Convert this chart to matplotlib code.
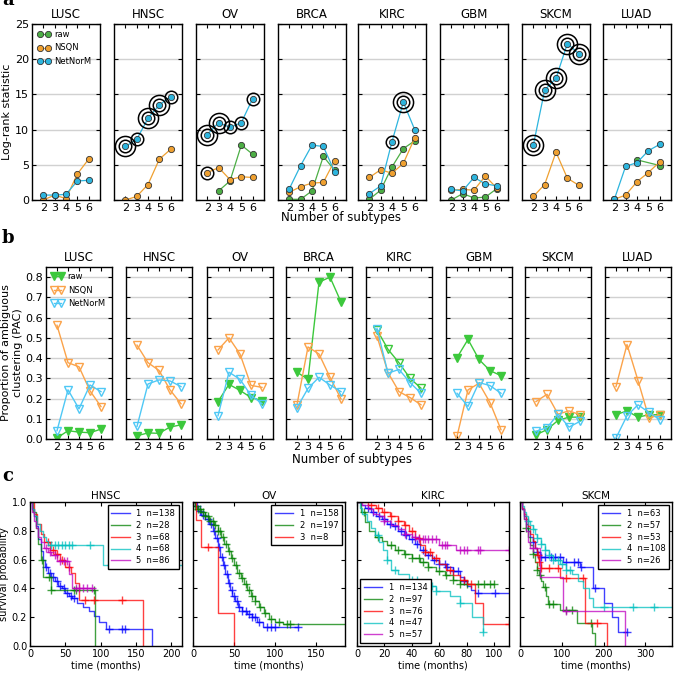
import numpy as np
import matplotlib
matplotlib.use("Agg")
import matplotlib.pyplot as plt

plt.rcParams["font.family"] = "DejaVu Sans"
plt.rcParams["xtick.direction"] = "in"
plt.rcParams["ytick.direction"] = "in"
plt.rcParams["xtick.top"] = True
plt.rcParams["ytick.right"] = True
plt.rcParams["xtick.major.size"] = 3
plt.rcParams["ytick.major.size"] = 3
plt.rcParams["axes.linewidth"] = 1.0

# ---------------- data panel a : log-rank statistic ----------------
cancers_a = ["LUSC", "HNSC", "OV", "BRCA", "KIRC", "GBM", "SKCM", "LUAD"]
n_sub = [2, 3, 4, 5, 6]
nan = np.nan
lr_raw = [
    [nan, nan, nan, nan, nan],
    [nan, nan, nan, nan, nan],
    [nan, 1.3, 2.7, 7.8, 6.5],
    [0.1, 0.1, 1.3, 6.2, 4.2],
    [0.1, 1.4, 4.7, 7.3, 8.4],
    [0.0, 0.9, 0.3, 0.4, 1.6],
    [nan, nan, nan, nan, nan],
    [nan, nan, 5.7, nan, 4.9],
]
lr_nsqn = [
    [0.0, 0.7, 0.2, 3.7, 5.8],
    [0.0, 0.5, 2.2, 5.8, 7.2],
    [3.9, 4.6, 2.9, 3.3, 3.2],
    [1.1, 1.9, 2.4, 2.5, 5.6],
    [3.2, 4.3, 3.8, 5.2, 8.8],
    [1.4, 1.5, 1.4, 3.4, 1.7],
    [0.5, 2.2, 6.8, 3.1, 2.1],
    [0.1, 0.7, 2.6, 3.9, 5.4],
]
lr_netnorm = [
    [0.7, 0.7, 0.8, 2.7, 2.8],
    [7.6, 8.6, 11.6, 13.5, 14.7],
    [9.3, 11.0, 10.3, 11.0, 14.4],
    [1.6, 4.9, 7.8, 7.6, 4.0],
    [0.9, 2.0, 8.3, 13.9, 10.0],
    [1.5, 1.3, 3.2, 2.3, 2.0],
    [7.8, 15.6, 17.3, 22.2, 20.8],
    [0.1, 4.8, 5.3, 7.0, 7.9],
]
# number of significance rings around each point
rings_netnorm = [
    [0, 0, 0, 0, 0],
    [2, 1, 2, 2, 1],
    [2, 2, 1, 1, 1],
    [0, 0, 0, 0, 0],
    [0, 0, 1, 2, 0],
    [0, 0, 0, 0, 0],
    [2, 2, 2, 2, 2],
    [0, 0, 0, 0, 0],
]
rings_nsqn = [
    [0, 0, 0, 0, 0],
    [0, 0, 0, 0, 0],
    [1, 0, 0, 0, 0],
    [0, 0, 0, 0, 0],
    [0, 0, 0, 0, 0],
    [0, 0, 0, 0, 0],
    [0, 0, 0, 0, 0],
    [0, 0, 0, 0, 0],
]

# ---------------- data panel b : PAC ----------------
pac_raw = [
    [0.005, 0.041, 0.034, 0.031, 0.049],
    [0.016, 0.030, 0.028, 0.059, 0.070],
    [0.185, 0.270, 0.240, 0.205, 0.190],
    [0.330, 0.295, 0.775, 0.800, 0.677],
    [0.540, 0.443, 0.377, 0.300, 0.251],
    [0.402, 0.492, 0.393, 0.338, 0.313],
    [0.021, 0.046, 0.092, 0.108, 0.108],
    [0.120, 0.139, 0.108, 0.120, 0.120],
]
pac_nsqn = [
    [0.562, 0.377, 0.357, 0.238, 0.160],
    [0.464, 0.377, 0.339, 0.243, 0.174],
    [0.440, 0.500, 0.420, 0.265, 0.255],
    [0.170, 0.455, 0.420, 0.305, 0.198],
    [0.508, 0.328, 0.234, 0.205, 0.169],
    [0.013, 0.243, 0.275, 0.180, 0.046],
    [0.185, 0.221, 0.123, 0.139, 0.120],
    [0.259, 0.467, 0.289, 0.103, 0.120],
]
pac_netnorm = [
    [0.041, 0.243, 0.149, 0.267, 0.234],
    [0.062, 0.272, 0.292, 0.287, 0.259],
    [0.115, 0.330, 0.295, 0.215, 0.175],
    [0.155, 0.250, 0.305, 0.267, 0.234],
    [0.546, 0.325, 0.344, 0.279, 0.226],
    [0.226, 0.161, 0.279, 0.264, 0.226],
    [0.038, 0.056, 0.123, 0.059, 0.087],
    [0.005, 0.115, 0.169, 0.131, 0.095],
]
raw_filled = [True, True, True, True, False, True, True, True]

# ---------------- data panel c : Kaplan-Meier ----------------
km_titles = ["HNSC", "OV", "KIRC", "SKCM"]
km_xmax = [215, 185, 111, 364]
km_xticks = [[0, 50, 100, 150, 200], [0, 50, 100, 150], [0, 20, 40, 60, 80, 100], [0, 100, 200, 300]]
km_sizes = [[138, 28, 68, 68, 86], [158, 197, 8], [134, 97, 76, 47, 57], [63, 57, 53, 108, 26]]
km_legend_loc = ["upper right", "upper right", "lower left", "upper right"]

hnsc_t = [
    [0, 3, 6, 9, 12, 15, 18, 21, 25, 30, 35, 40, 45, 50, 55, 60, 67, 75, 83, 90, 97, 108, 172],
    [0, 4, 8, 12, 15, 18, 30, 92],
    [0, 5, 10, 15, 20, 28, 35, 42, 50, 58, 63, 70, 160],
    [0, 3, 6, 10, 14, 18, 22, 26, 103, 215],
    [0, 3, 6, 9, 12, 16, 20, 25, 30, 38, 55, 60, 90],
]
hnsc_s = [
    [1, .95, .9, .83, .74, .66, .6, .55, .51, .48, .45, .42, .4, .37, .35, .33, .3, .27, .24, .21, .17, .12, 0],
    [1, .93, .82, .71, .6, .48, .39, 0],
    [1, .92, .85, .78, .72, .67, .64, .6, .55, .51, .44, .32, 0],
    [1, .95, .9, .85, .8, .76, .73, .7, .56, .56],
    [1, .93, .87, .82, .76, .72, .68, .65, .63, .59, .5, .4, .4],
]
hnsc_c = [
    [22, 28, 33, 38, 43, 48, 52, 58, 62, 112, 130, 135],
    [17, 27, 30, 62, 65, 90],
    [25, 32, 38, 45, 55, 78, 90, 130],
    [30, 35, 40, 45, 50, 55, 60, 85, 115, 125, 140],
    [22, 28, 35, 42, 48, 52, 65, 70, 75, 80, 88],
]

ov_t = [
    [0, 3, 6, 10, 15, 20, 24, 27, 30, 33, 36, 39, 42, 45, 48, 51, 55, 60, 66, 72, 78, 85, 128],
    [0, 2, 5, 10, 15, 20, 25, 30, 34, 38, 42, 46, 50, 54, 58, 62, 66, 70, 75, 80, 86, 92, 100, 110, 185],
    [0, 4, 10, 30, 50],
]
ov_s = [
    [1, .97, .94, .91, .88, .85, .8, .75, .69, .62, .56, .5, .44, .39, .35, .31, .27, .24, .22, .2, .17, .13, .13],
    [1, .97, .95, .93, .9, .87, .84, .8, .76, .71, .66, .61, .56, .51, .47, .43, .39, .35, .31, .27, .23, .19, .17, .15, .15],
    [1, .875, .69, .23, 0],
]
ov_c = [
    [5, 8, 12, 18, 22, 26, 29, 32, 35, 38, 41, 44, 47, 50, 53, 56, 60, 64, 68, 72, 76, 80, 90, 95, 100, 128],
    [3, 6, 9, 12, 15, 18, 21, 24, 27, 30, 33, 36, 40, 44, 48, 52, 56, 60, 64, 68, 72, 76, 82, 88, 95, 105, 115, 118],
    [18],
]

kirc_t = [
    [0, 3, 6, 10, 14, 18, 22, 26, 30, 34, 38, 42, 46, 50, 55, 60, 65, 70, 75, 78, 80, 83, 86, 111],
    [0, 3, 6, 9, 13, 18, 22, 28, 34, 40, 46, 52, 58, 64, 70, 75, 100],
    [0, 8, 14, 18, 24, 30, 34, 38, 42, 46, 50, 55, 60, 65, 70, 75, 80, 86, 92, 111],
    [0, 2, 4, 7, 10, 13, 16, 19, 22, 25, 30, 38, 48, 58, 68, 75, 84, 92],
    [0, 4, 8, 12, 16, 20, 25, 30, 35, 40, 45, 60, 72, 111],
]
kirc_s = [
    [1, .98, .96, .93, .9, .88, .85, .83, .8, .77, .74, .71, .67, .63, .6, .57, .55, .52, .48, .45, .42, .39, .37, .37],
    [1, .93, .86, .8, .76, .73, .7, .67, .64, .61, .58, .55, .52, .49, .46, .43, .43],
    [1, .98, .96, .93, .9, .87, .84, .8, .75, .7, .65, .61, .57, .53, .49, .46, .43, .3, .15, .15],
    [1, .96, .92, .87, .82, .77, .72, .67, .6, .53, .5, .46, .42, .38, .35, .3, .2, .1],
    [1, .98, .95, .92, .9, .87, .84, .81, .78, .76, .74, .7, .665, .665],
]
kirc_c = [
    [8, 12, 16, 20, 24, 28, 32, 36, 40, 44, 48, 52, 56, 60, 64, 66, 70, 74, 78, 88, 101],
    [5, 15, 25, 30, 35, 40, 45, 48, 52, 60, 65, 70, 75, 80, 88, 93, 97, 100],
    [10, 15, 20, 25, 30, 35, 40, 45, 50, 53, 58, 68, 78, 83, 111],
    [15, 22, 28, 40, 44, 52, 55, 58, 75, 92],
    [20, 35, 42, 45, 48, 50, 52, 55, 58, 62, 64, 66, 75, 78, 80, 88, 90, 111],
]

skcm_t = [
    [0, 5, 10, 15, 20, 25, 30, 35, 40, 48, 104, 144, 176, 200, 220, 235, 256],
    [0, 5, 10, 15, 20, 25, 30, 35, 40, 45, 50, 55, 62, 68, 96, 136, 172, 180],
    [0, 5, 10, 15, 20, 25, 30, 35, 40, 45, 50, 96, 156, 208],
    [0, 5, 10, 15, 20, 25, 30, 35, 40, 50, 60, 70, 80, 95, 110, 125, 140, 150, 165, 176, 364],
    [0, 5, 10, 15, 20, 24, 48, 104, 252],
]
skcm_s = [
    [1, .95, .9, .85, .8, .76, .72, .68, .65, .62, .58, .55, .4, .3, .2, .1, .1],
    [1, .95, .88, .82, .76, .7, .64, .58, .53, .49, .45, .41, .35, .29, .25, .16, .09, 0],
    [1, .96, .92, .88, .83, .78, .73, .68, .63, .58, .54, .47, .16, 0],
    [1, .97, .93, .9, .87, .84, .81, .78, .75, .71, .67, .63, .6, .57, .53, .5, .45, .4, .33, .27, .27],
    [1, .95, .88, .8, .72, .68, .48, .24, 0],
]
skcm_c = [
    [30, 40, 50, 60, 75, 85, 95, 110, 130, 140, 145, 180, 256],
    [15, 30, 40, 48, 60, 70, 80, 110, 125, 170],
    [42, 45, 50, 70, 90, 110, 150, 185],
    [20, 30, 40, 50, 60, 70, 80, 90, 100, 110, 120, 200, 270, 320],
    [30, 110],
]
km_times = [hnsc_t, ov_t, kirc_t, skcm_t]
km_surv = [hnsc_s, ov_s, kirc_s, skcm_s]
km_cens = [hnsc_c, ov_c, kirc_c, skcm_c]

# ---------------- style ----------------
col_a = {"raw": "#4cae45", "NSQN": "#efa030", "NetNorM": "#2db5de"}
col_b = {"raw": "#3cc83c", "NSQN": "#fba34a", "NetNorM": "#4fc8f5"}
km_colors = ["b", "g", "r", "c", "m"]

W, H = 675, 673
fig = plt.figure(figsize=(6.75, 6.73), dpi=100)


def fax(left, top, width, height):
    return fig.add_axes([left / W, 1 - (top + height) / H, width / W, height / H])


# ---------------- panel a ----------------
lefts_a = [32, 114, 196, 278, 358, 440, 522, 603]
for i, name in enumerate(cancers_a):
    ax = fax(lefts_a[i], 24, 68, 176)
    ax.yaxis.grid(True, color="0.82", lw=1)
    ax.set_axisbelow(True)
    for lab, vals in [("raw", lr_raw[i]), ("NSQN", lr_nsqn[i]), ("NetNorM", lr_netnorm[i])]:
        x = np.array(n_sub, float)
        y = np.array(vals, float)
        m = ~np.isnan(y)
        ax.plot(x[m], y[m], "-o", color=col_a[lab], mfc=col_a[lab], mec="0.2",
                mew=0.6, ms=4.5, lw=0.9, label=lab)
    for vals, rings in [(lr_nsqn[i], rings_nsqn[i]), (lr_netnorm[i], rings_netnorm[i])]:
        for xx, yy, r in zip(n_sub, vals, rings):
            if r >= 1:
                ax.plot(xx, yy, "o", mfc="none", mec="k", mew=1.1, ms=9)
            if r >= 2:
                ax.plot(xx, yy, "o", mfc="none", mec="k", mew=1.1, ms=14.5)
    ax.set_xlim(1, 7)
    ax.set_ylim(0, 25)
    ax.set_xticks(n_sub)
    ax.set_yticks([0, 5, 10, 15, 20, 25])
    ax.tick_params(labelsize=8, pad=2, length=3)
    ax.set_title(name, fontsize=8.5, pad=4)
    if i == 0:
        ax.set_ylabel("Log-rank statistic", fontsize=8, labelpad=2)
        ax.legend(loc="upper left", frameon=False, numpoints=2, fontsize=6,
                  handlelength=1.5, handletextpad=0.5, borderaxespad=0.3,
                  labelspacing=0.55)
    else:
        ax.set_yticklabels([])
fig.text(341 / W, 1 - 218 / H, "Number of subtypes", ha="center", va="center", fontsize=8.5)

# ---------------- panel b ----------------
lefts_b = [46, 126, 207, 286, 366, 446, 525, 605]
for i, name in enumerate(cancers_a):
    ax = fax(lefts_b[i], 267, 66, 172)
    ax.yaxis.grid(True, color="0.82", lw=1)
    ax.set_axisbelow(True)
    for lab, vals in [("raw", pac_raw[i]), ("NSQN", pac_nsqn[i]), ("NetNorM", pac_netnorm[i])]:
        filled = lab == "raw" and raw_filled[i]
        ax.plot(n_sub, vals, "-v", color=col_b[lab],
                mfc=col_b[lab] if filled else "none", mec=col_b[lab],
                mew=1.0, ms=5.5, lw=1.0, label=lab)
    ax.set_xlim(1, 7)
    ax.set_ylim(0, 0.85)
    ax.set_xticks(n_sub)
    ax.set_yticks(np.arange(0, 0.81, 0.1))
    ax.tick_params(labelsize=8, pad=2, length=3)
    ax.set_title(name, fontsize=8.5, pad=4)
    if i == 0:
        ax.set_yticklabels(["%.1f" % v for v in np.arange(0, 0.81, 0.1)])
        ax.set_ylabel("Proportion of ambiguous\nclustering (PAC)", fontsize=8, labelpad=2)
        ax.legend(loc="upper left", frameon=False, numpoints=2, fontsize=6,
                  handlelength=1.5, handletextpad=0.5, borderaxespad=0.2,
                  labelspacing=0.55)
    else:
        ax.set_yticklabels([])
fig.text(352 / W, 1 - 459 / H, "Number of subtypes", ha="center", va="center", fontsize=8.5)

# ---------------- panel c ----------------
lefts_c = [30, 193, 357, 520]
for j, title in enumerate(km_titles):
    ax = fax(lefts_c[j], 502, 152, 144)
    for g in range(len(km_times[j])):
        t = np.array(km_times[j][g], float)
        s = np.array(km_surv[j][g], float)
        c = km_colors[g]
        ax.step(t, s, where="post", color=c, lw=1.0, alpha=0.75,
                label="%d  n=%d" % (g + 1, km_sizes[j][g]))
        ct = np.array(km_cens[j][g], float)
        idx = np.searchsorted(t, ct, side="right") - 1
        ax.plot(ct, s[idx], "+", color=c, ms=6, mew=1.0, alpha=0.75, ls="none")
    ax.set_xlim(0, km_xmax[j])
    ax.set_ylim(0, 1.0)
    ax.set_xticks(km_xticks[j])
    ax.set_yticks(np.arange(0, 1.01, 0.2))
    ax.tick_params(labelsize=7, pad=2, length=3)
    ax.set_title(title, fontsize=7.5, pad=2)
    ax.set_xlabel("time (months)", fontsize=7, labelpad=1)
    if j == 0:
        ax.set_yticklabels(["%.1f" % v for v in np.arange(0, 1.01, 0.2)])
        ax.set_ylabel("survival probability", fontsize=7, labelpad=2)
    else:
        ax.set_yticklabels([])
    leg = ax.legend(loc=km_legend_loc[j], fontsize=6, fancybox=False,
                    handlelength=2.2, handletextpad=0.8, borderaxespad=0.4,
                    labelspacing=0.35, framealpha=1)
    leg.get_frame().set_edgecolor("k")
    leg.get_frame().set_linewidth(1.0)

# panel letters
fig.text(2 / W, 1.0, "a", fontsize=13, fontweight="bold", family="DejaVu Serif", va="center")
fig.text(2 / W, 1 - 238 / H, "b", fontsize=13, fontweight="bold", family="DejaVu Serif", va="center")
fig.text(2 / W, 1 - 476 / H, "c", fontsize=13, fontweight="bold", family="DejaVu Serif", va="center")

fig.savefig("out.png", dpi=100)
